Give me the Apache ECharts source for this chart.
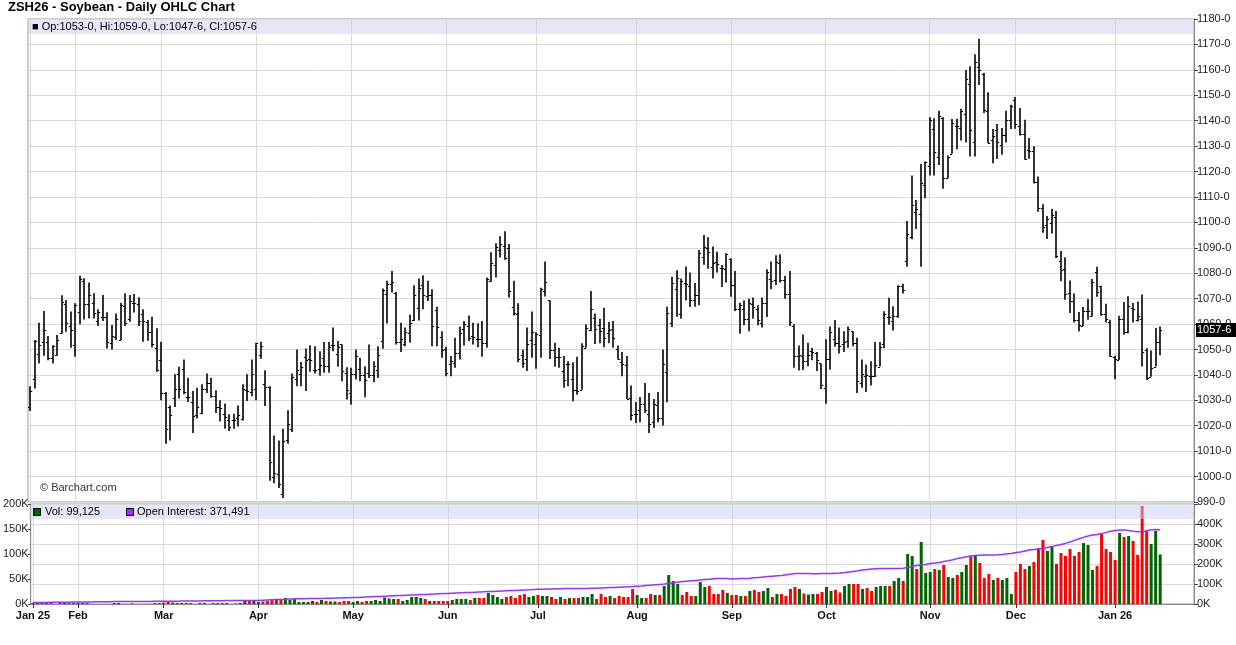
<!DOCTYPE html>
<html><head><meta charset="utf-8">
<script src="https://cdn.jsdelivr.net/npm/echarts@6/dist/echarts.min.js"></script>
<style>html,body{margin:0;padding:0;background:#fff}#c{width:1236px;height:645px}</style>
</head><body><div id="c"></div>
<script>
const titleText = 'ZSH26 - Soybean - Daily OHLC Chart';
const startDate = '2025-01-17';
const endDate = '2026-01-16';
const holidays = ['2025-01-20','2025-02-17','2025-04-18','2025-05-26','2025-06-19','2025-07-04','2025-09-01','2025-11-27','2025-12-25','2026-01-01'];
const futureSlots = 7;
const monthNames = ['Jan','Feb','Mar','Apr','May','Jun','Jul','Aug','Sep','Oct','Nov','Dec'];

const opens = [
1027.4,1038.3,1048.4,1053.0,1053.0,1046.8,1047.8,1056.6,1067.8,1059.2,
1051.7,1064.9,1077.1,1067.8,1068.1,1061.3,1062.9,1062.9,1052.4,1055.0,
1053.7,1067.1,1061.8,1068.4,1067.9,1063.8,1060.9,1057.0,1050.4,1045.8,
1032.9,1027.5,1030.9,1040.5,1042.5,1031.3,1029.3,1024.1,1025.1,1034.6,
1036.8,1031.6,1027.4,1024.7,1022.4,1022.4,1023.2,1022.8,1034.0,1033.3,
1034.6,1047.8,1036.6,1035.3,999.7,1001.0,993.2,1014.2,1018.8,1038.5,
1040.5,1047.1,1046.1,1041.8,1042.5,1046.7,1043.4,1051.6,1048.4,1052.0,
1040.8,1032.9,1040.5,1042.5,1039.9,1040.8,1040.1,1042.1,1053.3,1071.7,
1075.7,1072.4,1052.9,1052.0,1056.6,1061.4,1066.5,1075.3,1071.1,1071.3,
1065.5,1055.0,1050.3,1044.1,1044.7,1048.7,1058.2,1059.2,1055.3,1054.2,
1054.0,1052.6,1077.0,1083.2,1089.1,1090.8,1090.1,1066.8,1063.8,1048.0,
1046.1,1053.9,1052.0,1055.5,1073.0,1069.3,1049.7,1047.1,1041.4,1044.3,
1038.4,1034.0,1034.2,1050.7,1057.6,1062.5,1059.5,1058.6,1056.6,1058.2,
1050.0,1045.0,1043.8,1030.9,1024.6,1026.3,1028.6,1024.7,1021.4,1028.3,
1023.0,1041.2,1060.5,1073.7,1064.1,1076.3,1075.0,1069.3,1071.3,1086.2,
1090.1,1082.6,1084.5,1082.2,1081.6,1085.5,1075.3,1066.1,1066.1,1061.8,
1067.8,1065.8,1060.5,1068.4,1077.6,1077.2,1084.2,1077.2,1071.7,1059.2,
1047.4,1047.6,1045.4,1049.3,1048.7,1044.5,1034.9,1046.3,1054.0,1052.6,
1052.0,1053.3,1057.2,1052.4,1036.8,1039.7,1039.7,1039.5,1043.3,1052.2,
1062.8,1061.2,1063.0,1074.9,1084.7,1094.3,1104.2,1103.3,1114.7,1122.0,
1136.7,1125.7,1141.0,1117.6,1127.0,1137.8,1137.1,1142.6,1154.6,1131.6,
1161.2,1158.5,1143.7,1132.5,1136.4,1130.5,1134.5,1140.4,1148.3,1137.8,
1134.7,1128.6,1128.2,1115.7,1105.8,1098.8,1099.9,1102.2,1084.7,1081.7,
1072.2,1068.9,1061.7,1059.1,1065.0,1063.3,1080.4,1074.9,1064.1,1061.0,
1047.2,1045.9,1062.0,1056.7,1066.3,1061.4,1062.0,1049.9,1039.3,1043.3,1053.0];

const highs = [
1035.5,1053.7,1060.5,1065.1,1055.3,1051.7,1055.7,1071.3,1069.5,1064.9,
1068.2,1079.0,1078.0,1076.3,1072.1,1065.8,1071.4,1064.6,1059.6,1064.2,
1068.4,1072.1,1071.4,1071.8,1070.5,1065.8,1061.6,1062.9,1058.3,1053.0,
1033.3,1028.0,1040.3,1043.2,1046.1,1038.9,1033.7,1034.9,1036.3,1040.5,
1038.9,1034.0,1030.0,1028.7,1024.5,1024.7,1028.0,1036.3,1040.3,1046.1,
1052.6,1053.0,1041.8,1035.5,1016.2,1014.2,1018.8,1026.1,1040.5,1050.0,
1045.1,1050.4,1051.7,1051.3,1049.3,1052.9,1052.9,1058.6,1053.3,1052.0,
1043.0,1042.8,1050.0,1046.7,1043.4,1052.0,1045.4,1051.3,1074.0,1077.0,
1080.9,1072.6,1060.5,1058.6,1063.8,1075.3,1077.9,1079.2,1077.0,1073.7,
1066.8,1057.2,1051.1,1047.4,1054.6,1059.0,1061.2,1063.4,1060.5,1060.3,
1061.2,1078.3,1088.2,1091.8,1094.5,1096.5,1091.5,1077.0,1068.2,1050.0,
1058.6,1064.9,1056.8,1074.3,1084.6,1069.3,1052.6,1050.7,1047.4,1045.4,
1045.0,1047.1,1052.4,1059.9,1073.0,1064.2,1062.1,1066.4,1060.8,1061.2,
1051.6,1049.0,1047.4,1035.8,1029.3,1031.3,1036.8,1032.9,1030.5,1033.3,
1050.0,1066.8,1078.6,1081.2,1077.9,1082.6,1080.3,1076.1,1089.1,1095.0,
1094.1,1090.5,1088.4,1083.2,1087.9,1085.9,1080.9,1068.4,1069.3,1070.0,
1070.4,1067.4,1070.4,1081.6,1084.6,1087.1,1087.5,1079.0,1080.9,1059.9,
1051.6,1055.9,1052.6,1050.7,1049.0,1044.5,1054.0,1059.0,1061.6,1058.6,
1057.2,1059.0,1057.2,1054.6,1046.1,1044.1,1045.4,1052.9,1052.9,1065.0,
1070.3,1067.0,1075.3,1075.9,1100.5,1118.4,1108.8,1123.0,1123.9,1141.4,
1141.0,1143.9,1141.4,1126.3,1140.7,1140.8,1144.7,1159.9,1161.4,1166.1,
1172.2,1158.8,1151.2,1136.7,1138.7,1137.1,1143.9,1146.3,1149.3,1145.0,
1140.4,1133.2,1129.9,1118.0,1107.1,1102.5,1105.4,1104.5,1088.7,1086.3,
1077.1,1072.0,1064.7,1066.7,1069.9,1077.7,1082.5,1075.1,1068.0,1061.7,
1047.5,1063.3,1068.7,1070.9,1068.3,1068.9,1071.6,1050.5,1049.6,1058.4,1059.0];

const lows = [
1025.8,1034.6,1044.5,1047.5,1045.8,1044.5,1047.5,1056.3,1057.0,1050.7,
1047.1,1059.9,1061.8,1062.2,1062.2,1059.2,1061.2,1050.4,1050.0,1053.7,
1053.7,1059.2,1060.9,1064.5,1059.2,1053.0,1053.4,1050.8,1041.2,1030.0,
1012.9,1014.2,1027.4,1030.7,1032.4,1029.3,1017.1,1022.8,1024.5,1032.9,
1031.0,1025.0,1021.7,1018.8,1017.9,1018.8,1019.7,1022.1,1029.7,1031.6,
1030.0,1046.4,1027.8,998.4,997.4,995.5,991.6,1012.9,1017.5,1035.5,
1035.5,1033.7,1041.2,1040.5,1039.7,1040.8,1040.8,1049.3,1043.2,1037.5,
1030.3,1028.3,1038.2,1037.5,1031.2,1038.8,1037.1,1038.8,1050.3,1060.2,
1072.4,1052.0,1049.0,1051.3,1052.6,1061.2,1061.4,1065.8,1069.1,1051.3,
1051.3,1046.7,1039.5,1039.5,1042.8,1046.1,1051.6,1053.3,1052.0,1050.9,
1047.1,1050.7,1076.6,1078.3,1086.2,1085.3,1070.4,1063.4,1045.0,1042.8,
1041.5,1046.7,1042.4,1046.7,1070.8,1046.3,1043.2,1042.8,1034.9,1035.5,
1029.6,1032.2,1034.2,1050.7,1057.2,1052.2,1052.4,1050.9,1052.4,1050.7,
1046.1,1039.5,1030.5,1022.1,1021.1,1021.4,1025.0,1017.1,1019.1,1021.4,
1020.1,1029.2,1058.8,1062.9,1062.1,1069.3,1066.7,1066.8,1067.4,1083.3,
1081.8,1077.9,1080.3,1074.6,1076.3,1070.7,1065.1,1056.2,1059.5,1057.2,
1062.1,1059.5,1058.6,1062.8,1073.7,1075.4,1076.3,1070.0,1059.2,1042.8,
1041.7,1041.9,1043.4,1045.8,1041.5,1034.5,1028.6,1042.1,1051.1,1048.4,
1049.0,1050.7,1051.3,1032.9,1034.9,1033.3,1035.8,1039.2,1043.3,1050.5,
1059.7,1057.5,1062.5,1072.0,1082.5,1093.4,1097.4,1082.5,1109.5,1118.4,
1118.4,1122.6,1113.2,1117.4,1127.0,1128.8,1132.2,1131.4,1125.9,1125.9,
1154.0,1143.0,1131.2,1123.3,1124.9,1126.6,1131.4,1136.7,1136.8,1134.2,
1124.6,1125.0,1115.3,1104.2,1095.9,1093.5,1095.6,1086.0,1076.8,1069.6,
1064.3,1060.6,1057.1,1059.1,1061.7,1063.0,1070.7,1063.3,1060.6,1047.0,
1038.3,1045.9,1055.8,1056.4,1060.6,1061.0,1043.3,1038.0,1039.3,1043.3,1047.75];

const closes = [
1033.5,1053.4,1051.7,1057.6,1046.8,1051.3,1053.7,1068.8,1060.5,1057.6,
1067.5,1077.6,1067.8,1071.4,1064.2,1064.9,1062.9,1053.0,1055.3,1061.8,
1067.5,1060.5,1069.1,1068.4,1061.3,1061.2,1057.0,1052.0,1041.8,1032.9,
1018.8,1024.1,1034.6,1034.6,1033.3,1031.3,1023.7,1027.4,1034.6,1036.8,
1031.6,1027.4,1027.0,1023.4,1019.5,1022.4,1024.1,1034.6,1033.5,1040.3,
1052.4,1051.3,1035.3,1005.7,1001.3,997.1,1013.9,1020.8,1039.2,1042.1,
1043.2,1045.8,1045.8,1042.1,1043.8,1043.4,1051.1,1051.6,1051.1,1041.5,
1034.2,1040.5,1047.4,1040.1,1037.8,1040.1,1043.4,1048.0,1073.3,1075.7,
1076.6,1052.9,1054.2,1056.8,1060.5,1071.3,1074.3,1071.3,1071.3,1059.2,
1059.0,1049.6,1040.8,1045.4,1048.7,1056.6,1059.9,1054.6,1054.9,1054.0,
1052.6,1077.9,1084.2,1090.5,1091.5,1085.8,1073.0,1064.2,1046.3,1044.5,
1052.0,1056.8,1055.9,1073.7,1076.6,1049.7,1047.1,1047.1,1037.8,1044.3,
1034.2,1033.6,1051.3,1058.6,1066.0,1058.2,1057.2,1054.6,1057.6,1054.6,
1046.3,1044.1,1030.7,1024.3,1024.7,1028.7,1026.1,1020.8,1028.7,1023.0,
1044.3,1064.5,1076.3,1078.3,1077.0,1075.7,1069.3,1071.3,1087.8,1090.4,
1088.2,1084.2,1083.6,1082.2,1087.5,1075.3,1065.8,1067.4,1061.8,1068.2,
1066.8,1061.6,1068.4,1080.3,1077.0,1084.6,1077.2,1071.7,1060.8,1047.4,
1048.0,1045.4,1048.0,1049.0,1045.8,1036.2,1046.3,1056.8,1052.6,1051.3,
1052.9,1057.9,1052.6,1037.5,1040.5,1040.1,1039.7,1043.8,1050.9,1063.8,
1062.8,1063.0,1075.0,1073.3,1095.4,1106.8,1105.1,1115.4,1123.7,1140.1,
1127.5,1142.0,1117.4,1125.7,1139.1,1137.8,1143.7,1156.4,1136.2,1163.0,
1159.9,1144.3,1131.4,1134.1,1131.8,1134.5,1140.4,1145.9,1138.7,1134.7,
1125.0,1128.2,1115.9,1105.8,1098.3,1101.2,1102.8,1086.7,1081.4,1072.0,
1068.9,1061.7,1059.7,1065.0,1065.0,1076.4,1072.5,1064.1,1062.0,1047.5,
1046.2,1062.0,1056.7,1067.0,1066.0,1063.0,1049.2,1038.7,1042.6,1052.9,1057.75];

// volume in thousands of contracts
const volumeK = [
2,3,3,3,2,0,2,2,2,2,
2,2,2,0,0,0,0,0,2,2,
0,0,1,0,0,0,0,2,2,3,
4,3,2,2,2,2,0,2,2,0,
2,2,2,2,0,1,2,7,7,7,
4,5,6,9,8,8,12,8,11,4,
4,4,6,4,8,6,5,5,4,6,
6,4,6,4,6,6,8,6,13,11,
10,10,6,8,14,14,12,10,6,6,
6,6,6,8,10,10,10,8,12,12,
12,22,18,14,10,14,16,12,18,20,
14,16,18,16,16,14,10,14,10,12,
12,12,14,14,20,10,20,14,16,12,
16,14,14,30,18,12,12,20,18,18,
36,58,46,40,18,24,16,16,44,34,
36,20,20,28,22,18,18,16,16,26,
28,24,26,32,14,20,20,16,30,34,
30,21,19,20,20,24,34,26,28,23,
36,40,40,40,30,32,26,34,36,36,
36,46,52,46,100,96,70,124,62,64,
70,68,78,54,52,58,64,78,95,98,
82,52,60,48,52,48,52,20,64,80,
70,76,84,112,128,106,116,80,102,96,
110,96,104,122,118,68,76,142,110,104,
88,142,134,136,126,98,196,146,120,146,99.125];

// open interest in thousands of contracts
const openInterestK = [
8,8,8,8,9,9,9,9,9,10,
10,10,10,10,11,11,11,11,12,12,
12,12,12,13,13,13,13,14,14,
14,14,14,14,15,15,15,15,15,16,16,16,16,16,17,17,17,17,17,18,18,
18,19,20,21,22,23,24,25,25,26,26,27,27,28,28,29,29,30,30,31,31,
32,33,34,35,36,37,38,39,40,41,42,43,44,45,46,47,48,49,50,51,52,
53,54,55,56,57,58,59,60,61,62,63,64,65,66,67,68,69,70,71,73,
74,74,75,75,76,76,77,77,78,78,78,78,79,79,80,81,82,83,84,85,86,87,
89,90,92,94,96,98,100,103,106,109,112,114,116,118,120,122,124,126,128,128,127,
125,126,127,128,129,131,133,135,137,139,141,143,146,149,152,153,153,152,151,151,152,
153,153,154,155,157,160,163,166,170,173,175,176,177,178,178,178,178,179,183,188,192,195,198,
203,205,208,212,216,221,227,231,236,240,242,244,245,245,245,246,248,251,253,
257,260,265,270,273,275,278,282,287,293,298,303,310,318,326,333,340,345,348,352,358,364,
368,370,370,368,364,361,362,366,371,373,371.491];

const priceTicks = {min: 990, max: 1180, step: 10};
const volTicks = {min: 0, max: 200, step: 50};
const oiTicks = {min: 0, max: 500, step: 100};

// ---------- build categories (trading days) ----------
const FONT = '"Liberation Sans", Arial, sans-serif';
function ymd(d){return d.toISOString().slice(0,10);}
const dates = [];
(function(){
  let d = new Date(startDate + 'T00:00:00Z');
  const end = new Date(endDate + 'T00:00:00Z');
  const hol = new Set(holidays);
  while (d <= end) {
    const wd = d.getUTCDay();
    const s = ymd(d);
    if (wd !== 0 && wd !== 6 && !hol.has(s)) dates.push(s);
    d = new Date(d.getTime() + 86400000);
  }
})();
const n = Math.min(dates.length, closes.length);
const cats = dates.slice(0, n);
for (let i = 0; i < futureSlots; i++) cats.push('f' + i);
const monthLabelAt = {};
let prevM = '';
for (let i = 0; i < n; i++) {
  const m = dates[i].slice(0,7);
  if (m !== prevM) {
    const mi = +dates[i].slice(5,7) - 1;
    const yy = dates[i].slice(2,4);
    monthLabelAt[i] = (mi === 0) ? (monthNames[0] + ' ' + yy) : monthNames[mi];
    prevM = m;
  }
}
const isMonthStart = (idx) => monthLabelAt.hasOwnProperty(idx);

function fmtPrice(v){
  let w = Math.floor(v + 1e-9);
  let e = Math.round((v - w) * 8);
  if (e === 8) { w += 1; e = 0; }
  return w + '-' + e;
}
function fmtInt(v){ return Math.round(v).toString().replace(/\B(?=(\d{3})+(?!\d))/g, ','); }

const ohlcData = [];
for (let i = 0; i < n; i++) ohlcData.push([i, opens[i], highs[i], lows[i], closes[i]]);
const volData = [];
for (let i = 0; i < n; i++) {
  const up = i === 0 ? true : closes[i] >= closes[i-1];
  volData.push({value: volumeK[i], itemStyle: {color: up ? '#006400' : '#ff0000'}});
}
const oiData = openInterestK.slice(0, n);

const last = n - 1;
const legendPrice = '■ Op:' + fmtPrice(opens[last]) + ', Hi:' + fmtPrice(highs[last]) + ', Lo:' + fmtPrice(lows[last]) + ', Cl:' + fmtPrice(closes[last]);
const legendVol = 'Vol: ' + fmtInt(volumeK[last] * 1000);
const legendOI = 'Open Interest: ' + fmtInt(openInterestK[last] * 1000);

const chart = echarts.init(document.getElementById('c'), null, {renderer: 'canvas'});
const gridColor = '#dadada';
const GL = 28, GR = 42;

const option = {
  animation: false,
  backgroundColor: '#ffffff',
  textStyle: {fontFamily: FONT},
  grid: [
    {left: GL, right: GR, top: 19, height: 483, show: true, borderColor: '#9a9a9a', borderWidth: 1, backgroundColor: 'transparent'},
    {left: GL, right: GR, top: 504, height: 100, show: true, borderColor: '#9a9a9a', borderWidth: 1, backgroundColor: 'transparent'}
  ],
  xAxis: [
    {type: 'category', gridIndex: 0, data: cats, boundaryGap: true,
     axisLine: {show: false}, axisTick: {show: false}, axisLabel: {show: false},
     splitLine: {show: true, interval: (i) => isMonthStart(i), alignWithLabel: true, lineStyle: {color: gridColor, width: 1}}},
    {type: 'category', gridIndex: 1, data: cats, boundaryGap: true,
     axisLine: {show: true, onZero: false, lineStyle: {color: '#8a8a8a'}},
     axisTick: {show: true, interval: (i) => isMonthStart(i), alignWithLabel: true, length: 4, lineStyle: {color: '#333'}},
     axisLabel: {show: true, interval: (i) => isMonthStart(i), formatter: (v, i) => monthLabelAt[i] || '',
                 fontFamily: FONT, fontSize: 11, fontWeight: 'bold', color: '#111', margin: 6, hideOverlap: false},
     splitLine: {show: true, interval: (i) => isMonthStart(i), alignWithLabel: true, lineStyle: {color: gridColor, width: 1}}}
  ],
  yAxis: [
    {type: 'value', gridIndex: 0, position: 'right', min: priceTicks.min, max: priceTicks.max, interval: priceTicks.step,
     axisLine: {show: true, lineStyle: {color: '#8a8a8a'}},
     axisTick: {show: true, length: 4, lineStyle: {color: '#444'}},
     axisLabel: {formatter: (v) => fmtPrice(v), fontFamily: FONT, fontSize: 11, color: '#222', margin: 3},
     splitLine: {show: true, lineStyle: {color: gridColor, width: 1}}},
    {type: 'value', gridIndex: 1, position: 'left', min: volTicks.min, max: volTicks.max, interval: volTicks.step,
     axisLine: {show: true, lineStyle: {color: '#8a8a8a'}},
     axisTick: {show: true, length: 3, lineStyle: {color: '#444'}},
     axisLabel: {formatter: (v) => v + 'K', fontFamily: FONT, fontSize: 11, color: '#222', margin: 2},
     splitLine: {show: false}},
    {type: 'value', gridIndex: 1, position: 'right', min: oiTicks.min, max: oiTicks.max, interval: oiTicks.step,
     axisLine: {show: true, lineStyle: {color: '#8a8a8a'}},
     axisTick: {show: true, length: 4, lineStyle: {color: '#444'}},
     axisLabel: {formatter: (v) => v === oiTicks.max ? '' : v + 'K', fontFamily: FONT, fontSize: 11, color: '#222', margin: 3},
     splitLine: {show: true, lineStyle: {color: gridColor, width: 1}}}
  ],
  series: [
    {type: 'custom', name: 'OHLC', xAxisIndex: 0, yAxisIndex: 0, data: ohlcData,
     encode: {x: 0, y: [1, 2, 3, 4]}, clip: true, z: 5,
     renderItem: function (params, api) {
       const idx = api.value(0);
       const pO = api.coord([idx, api.value(1)]);
       const pH = api.coord([idx, api.value(2)]);
       const pL = api.coord([idx, api.value(3)]);
       const pC = api.coord([idx, api.value(4)]);
       const x = Math.round(pO[0]);
       return {type: 'group', children: [
         {type: 'line', shape: {x1: x, y1: pH[1], x2: x, y2: pL[1]}, style: {stroke: '#000', lineWidth: 1.6}},
         {type: 'line', shape: {x1: x - 2.2, y1: Math.round(pO[1]) + 0.5, x2: x, y2: Math.round(pO[1]) + 0.5}, style: {stroke: '#000', lineWidth: 1}},
         {type: 'line', shape: {x1: x, y1: Math.round(pC[1]) + 0.5, x2: x + 2.2, y2: Math.round(pC[1]) + 0.5}, style: {stroke: '#000', lineWidth: 1}}
       ]};
     }},
    {type: 'bar', name: 'Vol', xAxisIndex: 1, yAxisIndex: 1, data: volData, barWidth: 3, z: 3, clip: false},
    {type: 'line', name: 'Open Interest', xAxisIndex: 1, yAxisIndex: 2, data: oiData, showSymbol: false, symbol: 'none',
     lineStyle: {color: '#9b30ff', width: 1.5}, z: 4}
  ],
  graphic: []
};
chart.setOption(option);

const yLast = chart.convertToPixel({yAxisIndex: 0}, closes[last]);
const g = [
  {type: 'text', left: 8, top: 1, z: 200, style: {text: titleText, font: 'bold 13px ' + FONT, fill: '#000'}},
  {type: 'rect', shape: {x: GL + 1, y: 20, width: 1236 - GL - GR - 2, height: 14}, z: 100, silent: true,
   style: {fill: 'rgba(205,205,245,0.5)'}},
  {type: 'text', x: 32, y: 27, z: 110, style: {text: legendPrice, font: '11px ' + FONT, fill: '#000', verticalAlign: 'middle'}},
  {type: 'rect', shape: {x: GL + 1, y: 505, width: 1236 - GL - GR - 2, height: 14}, z: 100, silent: true,
   style: {fill: 'rgba(205,205,245,0.5)'}},
  {type: 'rect', shape: {x: 33.5, y: 508.5, width: 7, height: 7}, z: 110, style: {fill: '#006400', stroke: '#000', lineWidth: 1}},
  {type: 'text', x: 45, y: 512, z: 110, style: {text: legendVol, font: '11px ' + FONT, fill: '#000', verticalAlign: 'middle'}},
  {type: 'rect', shape: {x: 126.5, y: 508.5, width: 7, height: 7}, z: 110, style: {fill: '#9b30ff', stroke: '#000', lineWidth: 1}},
  {type: 'text', x: 137, y: 512, z: 110, style: {text: legendOI, font: '11px ' + FONT, fill: '#000', verticalAlign: 'middle'}},
  {type: 'text', x: 40, y: 488, z: 110, style: {text: '© Barchart.com', font: '11px ' + FONT, fill: '#333', verticalAlign: 'middle'}},
  {type: 'rect', shape: {x: 1196, y: Math.round(yLast) - 7, width: 40, height: 14}, z: 120, style: {fill: '#000'}},
  {type: 'text', x: 1197, y: Math.round(yLast), z: 121, style: {text: fmtPrice(closes[last]), font: '11px ' + FONT, fill: '#fff', verticalAlign: 'middle'}}
];
chart.setOption({graphic: g});
</script></body></html>
